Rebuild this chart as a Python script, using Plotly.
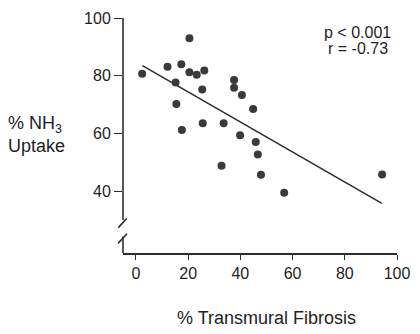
import plotly.graph_objects as go

# Data
fibrosis = [2.4, 20.5, 12.1, 17.4, 20.5, 23.3, 26.2, 15.2, 25.4, 15.5, 25.6, 17.6,
            37.6, 37.6, 40.6, 44.9, 33.6, 39.9, 45.9, 46.7, 32.8, 47.9, 56.8, 94.3]
nh3_uptake = [80.7, 93.0, 83.1, 84.0, 81.2, 80.3, 81.8, 77.6, 75.2, 70.2, 63.5, 61.2,
              78.5, 75.8, 73.3, 68.4, 63.5, 59.3, 57.0, 52.7, 48.8, 45.6, 39.4, 45.7]
fit_x = [2.5, 94.2]
fit_y = [83.5, 35.7]
x_ticks = [0, 20, 40, 60, 80, 100]
y_ticks = [40, 60, 80, 100]

ink = "#2e2e2e"
font = "Liberation Sans, Arial, sans-serif"

fig = go.Figure()
fig.add_trace(go.Scatter(x=fit_x, y=fit_y, mode="lines",
                         line=dict(color=ink, width=1.6), showlegend=False))
fig.add_trace(go.Scatter(x=fibrosis, y=nh3_uptake, mode="markers",
                         marker=dict(color="#3a3a3a", size=8, line=dict(width=0)),
                         showlegend=False))

fig.update_layout(
    width=420, height=334,
    margin=dict(l=123, r=21, t=10, b=81),
    paper_bgcolor="white", plot_bgcolor="white",
    font=dict(family=font, color="#1e1e1e"),
    xaxis=dict(range=[-4.94, 100], tickvals=x_ticks, ticks="outside", ticklen=5,
               tickwidth=1.4, tickcolor=ink, showline=True, linecolor=ink, linewidth=1.6,
               showgrid=False, zeroline=False, tickfont=dict(size=16)),
    yaxis=dict(range=[18.5, 100], tickvals=y_ticks, ticks="outside", ticklen=8,
               tickwidth=1.4, tickcolor=ink, showline=False,
               showgrid=False, zeroline=False, tickfont=dict(size=16)),
)

# y axis line with break marks
shape_line = dict(color=ink, width=1.6)
fig.add_shape(type="line", xref="paper", yref="paper", x0=0, x1=0, y0=0.14, y1=1, line=shape_line)
fig.add_shape(type="line", xref="paper", yref="paper", x0=0, x1=0, y0=0.0, y1=0.07, line=shape_line)
fig.add_shape(type="line", xref="paper", yref="paper", x0=-0.017, y0=0.108, x1=0.0134, y1=0.147, line=shape_line)
fig.add_shape(type="line", xref="paper", yref="paper", x0=-0.018, y0=0.041, x1=0.0145, y1=0.082, line=shape_line)

fig.add_annotation(text="% NH<sub>3</sub><br>Uptake", xref="paper", yref="paper",
                   x=-0.4275, y=0.506, xanchor="left", yanchor="middle", align="left",
                   showarrow=False, font=dict(size=18))
fig.add_annotation(text="% Transmural Fibrosis", xref="paper", yref="paper",
                   x=0.522, y=-0.276, xanchor="center", yanchor="middle",
                   showarrow=False, font=dict(size=18))
fig.add_annotation(text="p < 0.001", xref="paper", yref="paper",
                   x=0.857, y=0.938, xanchor="center", yanchor="middle",
                   showarrow=False, font=dict(size=16))
fig.add_annotation(text="r = -0.73", xref="paper", yref="paper",
                   x=0.857, y=0.872, xanchor="center", yanchor="middle",
                   showarrow=False, font=dict(size=16))

fig.write_html("out.html")
